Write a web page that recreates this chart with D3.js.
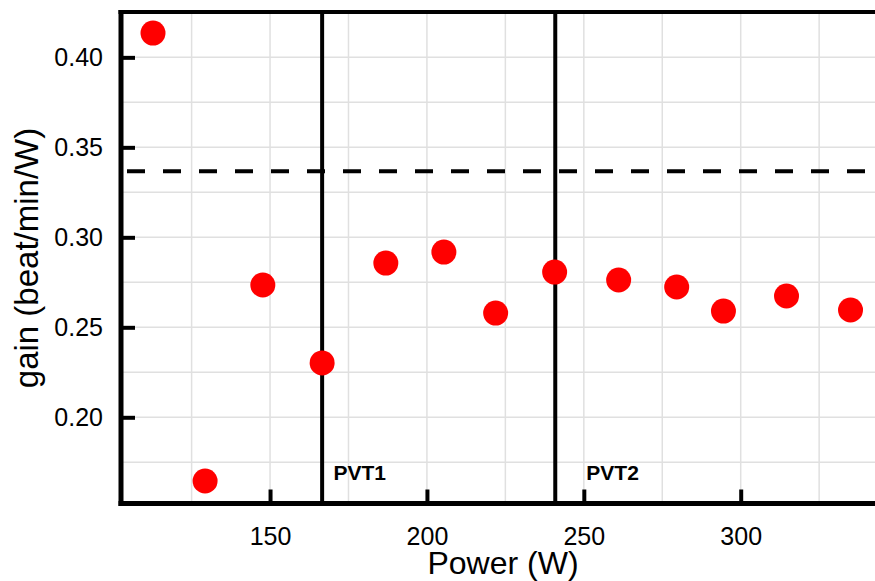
<!DOCTYPE html>
<html>
<head>
<meta charset="utf-8">
<script src="https://cdn.jsdelivr.net/npm/d3@7"></script>
<style>
  html, body { margin: 0; padding: 0; background: #fff; }
  svg { display: block; font-family: "Liberation Sans", Arial, sans-serif; }
</style>
</head>
<body>
<div id="chart"></div>
<script>
// data
const power = [112.7, 129.3, 147.7, 166.6, 186.9, 205.4, 221.9, 240.7, 261.1, 279.6, 294.5, 314.6, 335.0];
const gain = [0.4135, 0.1646, 0.2735, 0.2302, 0.2857, 0.2918, 0.2579, 0.2807, 0.2763, 0.2724, 0.2590, 0.2674, 0.2596];
const thresholds = [166.6, 240.9];
const thresholdLabels = ["PVT1", "PVT2"];
const thresholdLabelX = [170.2, 250.8];
const refGain = 0.3367;
const xTicks = [150, 200, 250, 300];
const yTicks = [0.20, 0.25, 0.30, 0.35, 0.40];

const totalWidth = 875, totalHeight = 581;
const margin = { top: 12, right: 0, bottom: 77.5, left: 121 };
const width = totalWidth - margin.left - margin.right;
const height = totalHeight - margin.top - margin.bottom;

const svgRoot = d3.select("#chart").append("svg")
    .attr("width", totalWidth)
    .attr("height", totalHeight);

const svg = svgRoot.append("g")
    .attr("transform", `translate(${margin.left},${margin.top})`);

const x = d3.scaleLinear().domain([102.5, 342.8]).range([0, width]);
const y = d3.scaleLinear().domain([0.1521, 0.4252]).range([height, 0]);

// grid every 25 W / 0.025
const gridColor = "#e0e0e0";
svg.append("g").selectAll("line")
    .data(d3.range(125, 342, 25))
    .join("line")
    .attr("x1", d => x(d)).attr("x2", d => x(d))
    .attr("y1", 0).attr("y2", height)
    .attr("stroke", gridColor).attr("stroke-width", 1.5);

svg.append("g").selectAll("line")
    .data(d3.range(0.175, 0.43, 0.025))
    .join("line")
    .attr("x1", 0).attr("x2", width)
    .attr("y1", d => y(d)).attr("y2", d => y(d))
    .attr("stroke", gridColor).attr("stroke-width", 1.5);

// reference level
svg.append("line")
    .attr("x1", 0).attr("x2", width)
    .attr("y1", y(refGain)).attr("y2", y(refGain))
    .attr("stroke", "#000").attr("stroke-width", 4)
    .attr("stroke-dasharray", "18,18")
    .attr("stroke-dashoffset", -6);

// threshold lines
svg.append("g").selectAll("line")
    .data(thresholds)
    .join("line")
    .attr("x1", d => x(d)).attr("x2", d => x(d))
    .attr("y1", 0).attr("y2", height)
    .attr("stroke", "#000").attr("stroke-width", 4);

svg.append("g").selectAll("text")
    .data(thresholdLabelX)
    .join("text")
    .attr("x", d => x(d))
    .attr("y", height - 24)
    .attr("font-size", 21)
    .attr("font-weight", "bold")
    .text((d, i) => thresholdLabels[i]);

// points
svg.append("g").selectAll("circle")
    .data(power)
    .join("circle")
    .attr("cx", d => x(d))
    .attr("cy", (d, i) => y(gain[i]))
    .attr("r", 12.5)
    .attr("fill", "#ff0000");

// axes
const xAxis = svg.append("g")
    .attr("transform", `translate(0,${height})`)
    .call(d3.axisBottom(x).tickValues(xTicks).tickSize(-14).tickPadding(24));
const yAxis = svg.append("g")
    .call(d3.axisLeft(y).tickValues(yTicks).tickFormat(d3.format(".2f")).tickSize(-14).tickPadding(20));

[xAxis, yAxis].forEach(a => {
    a.select(".domain").remove();
    a.selectAll(".tick line").attr("stroke", "#000").attr("stroke-width", 4);
    a.selectAll(".tick text").attr("font-size", 25).attr("fill", "#000")
        .attr("font-family", "Liberation Sans, Arial, sans-serif");
});
yAxis.selectAll(".tick text").attr("dx", 2);

// frame: left, bottom, top
svg.append("line").attr("x1", 0).attr("x2", 0).attr("y1", -2).attr("y2", height + 2.5)
    .attr("stroke", "#000").attr("stroke-width", 5);
svg.append("line").attr("x1", -2.5).attr("x2", width).attr("y1", height).attr("y2", height)
    .attr("stroke", "#000").attr("stroke-width", 5);
svg.append("line").attr("x1", -2.5).attr("x2", width).attr("y1", 0).attr("y2", 0)
    .attr("stroke", "#000").attr("stroke-width", 4);

// axis titles
svgRoot.append("text")
    .attr("x", 503).attr("y", 574)
    .attr("text-anchor", "middle")
    .attr("font-size", 32)
    .text("Power (W)");

svgRoot.append("text")
    .attr("transform", "translate(38,258) rotate(-90)")
    .attr("text-anchor", "middle")
    .attr("font-size", 33)
    .text("gain (beat/min/W)");
</script>
</body>
</html>
